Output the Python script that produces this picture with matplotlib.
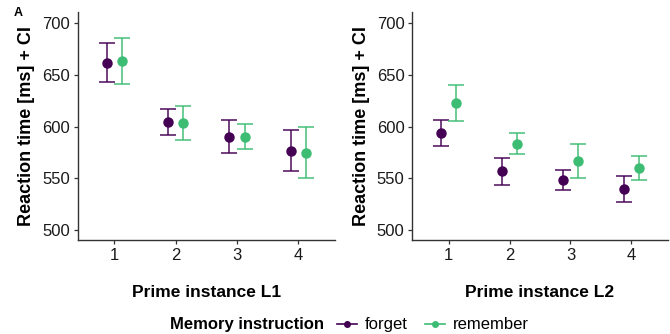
import matplotlib.pyplot as plt
from matplotlib.lines import Line2D
import numpy as np

plt.rcParams['font.family'] = ['Liberation Sans', 'DejaVu Sans']

positions = [1, 2, 3, 4]

# panel L1
l1_forget = [661.4, 604.2, 590.4, 576.8]
l1_forget_lo = [642.8, 592.3, 574.0, 557.2]
l1_forget_hi = [680.7, 616.7, 606.4, 596.5]
l1_remember = [663.3, 603.2, 590.4, 574.3]
l1_remember_lo = [640.8, 587.5, 578.1, 550.2]
l1_remember_hi = [685.5, 619.6, 602.9, 599.4]

# panel L2
l2_forget = [593.6, 556.6, 548.2, 539.2]
l2_forget_lo = [581.0, 543.7, 538.6, 526.7]
l2_forget_hi = [606.8, 569.8, 557.6, 552.1]
l2_remember = [622.5, 583.6, 566.6, 559.5]
l2_remember_lo = [605.1, 573.3, 549.8, 547.9]
l2_remember_hi = [639.9, 594.2, 583.0, 571.7]

c_forget = '#440154'
c_remember = '#3dbc74'
dodge = 0.125


def draw_series(ax, x, y, lo, hi, color):
    y = np.array(y)
    err = [y - np.array(lo), np.array(hi) - y]
    ax.errorbar(x, y, yerr=err, fmt='none', ecolor=color, alpha=0.75,
                elinewidth=1.4, capsize=6, capthick=1.4)
    ax.plot(x, y, 'o', color=color, ms=6.5, zorder=3)


def style_axes(ax, xlabel):
    ax.set_xlim(0.4, 4.6)
    ax.set_ylim(490, 711)
    ax.set_xticks(positions)
    ax.set_yticks([500, 550, 600, 650, 700])
    for s in ['top', 'right']:
        ax.spines[s].set_visible(False)
    for s in ['left', 'bottom']:
        ax.spines[s].set_color('#333333')
        ax.spines[s].set_linewidth(1.0)
    ax.tick_params(labelsize=12, colors='#333333', labelcolor='#1a1a1a',
                   length=3, width=0.9, pad=2.5)
    ax.set_xlabel(xlabel, fontsize=12.5, fontweight='bold', labelpad=16)
    ax.set_ylabel('Reaction time [ms] + CI', fontsize=13, fontweight='bold', labelpad=5)


fig = plt.figure(figsize=(6.7, 3.34), dpi=100)
ax1 = fig.add_axes([0.116, 0.281, 0.384, 0.683])
ax2 = fig.add_axes([0.615, 0.281, 0.382, 0.683])

x = np.array(positions)
draw_series(ax1, x - dodge, l1_forget, l1_forget_lo, l1_forget_hi, c_forget)
draw_series(ax1, x + dodge, l1_remember, l1_remember_lo, l1_remember_hi, c_remember)
draw_series(ax2, x - dodge, l2_forget, l2_forget_lo, l2_forget_hi, c_forget)
draw_series(ax2, x + dodge, l2_remember, l2_remember_lo, l2_remember_hi, c_remember)

style_axes(ax1, 'Prime instance L1')
style_axes(ax2, 'Prime instance L2')

fig.text(0.027, 0.962, 'A', fontsize=9, fontweight='bold', ha='center', va='center')

fig.text(0.483, 0.027, 'Memory instruction', fontsize=12, fontweight='bold',
         ha='right', va='center')
handles = [Line2D([0], [0], color=c_forget, marker='o', ms=4, lw=1.2),
           Line2D([0], [0], color=c_remember, marker='o', ms=4, lw=1.2)]
fig.legend(handles, ['forget', 'remember'], loc='center left',
           bbox_to_anchor=(0.49, 0.027), ncol=2, frameon=False, fontsize=12,
           handlelength=1.2, handletextpad=0.5, columnspacing=1.0, borderpad=0)

fig.savefig('out.png', dpi=100)
